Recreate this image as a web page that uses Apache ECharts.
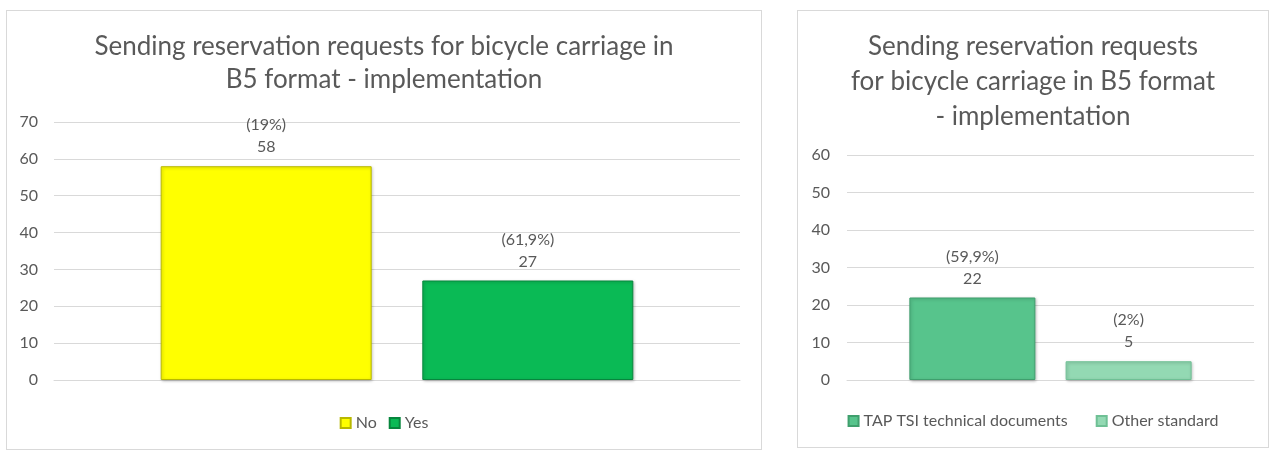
<!DOCTYPE html>
<html>
<head>
<meta charset="utf-8">
<script src="https://cdn.jsdelivr.net/npm/echarts@6/dist/echarts.min.js"></script>
<style>
  html, body { margin: 0; padding: 0; background: #fff; }
  .panel {
    position: absolute;
    box-sizing: border-box;
    border: 1px solid #d9d9d9;
    background: #fff;
  }
  #panel1 { left: 6px; top: 10px; width: 756px; height: 440px; }
  #panel2 { left: 797px; top: 10px; width: 472px; height: 438px; }
  .chart { width: 100%; height: 100%; }
</style>
</head>
<body>
<div class="panel" id="panel1"><div class="chart" id="chart1"></div></div>
<div class="panel" id="panel2"><div class="chart" id="chart2"></div></div>
<script>
// data
const titleLeft = "Sending reservation requests for bicycle carriage in\nB5 format - implementation";
const titleRight = "Sending reservation requests\nfor bicycle carriage in B5 format\n- implementation";

const leftNames = ["No", "Yes"];
const leftValues = [58, 27];
const leftShares = ["(19%)", "(61,9%)"];
const leftColors = ["#ffff00", "#0aba55"];
const leftBorders = ["#b8b800", "#07863d"];
const leftMax = 70;

const rightNames = ["TAP TSI technical documents", "Other standard"];
const rightValues = [22, 5];
const rightShares = ["(59,9%)", "(2%)"];
const rightColors = ["#57c48c", "#93d9b3"];
const rightBorders = ["#3f9f6d", "#6fc095"];
const rightMax = 60;

const font = "Lato";
const textColor = "#595959";

function buildSeries(names, values, shares, colors, borders, barWidth) {
  return names.map((name, i) => ({
    name: name,
    type: "bar",
    barWidth: barWidth,
    barGap: "24%",
    data: [values[i]],
    itemStyle: {
      color: colors[i],
      borderColor: borders[i],
      borderWidth: 1,
      shadowColor: "rgba(0,0,0,0.25)",
      shadowBlur: 3,
      shadowOffsetX: 1,
      shadowOffsetY: 1,
    },
    label: {
      show: true,
      position: "top",
      distance: 8,
      formatter: shares[i] + "\n" + values[i],
      color: textColor,
      fontSize: 16,
      lineHeight: 22,
      fontFamily: font,
    },
  }));
}

function buildOption(cfg) {
  return {
    animation: false,
    title: {
      text: cfg.title,
      left: "center",
      top: cfg.titleTop,
      padding: 0,
      textStyle: {
        color: textColor,
        fontSize: 26,
        fontWeight: "normal",
        lineHeight: cfg.titleLine,
        fontFamily: font,
      },
    },
    legend: {
      data: cfg.names,
      left: "center",
      top: cfg.legendTop,
      icon: "rect",
      itemWidth: 10,
      itemHeight: 10,
      itemGap: cfg.legendGap,
      textStyle: { color: textColor, fontSize: 16, fontFamily: font },
    },
    grid: cfg.grid,
    xAxis: {
      type: "category",
      data: [""],
      axisLine: { lineStyle: { color: "#d9d9d9" } },
      axisTick: { show: false },
      axisLabel: { show: false },
    },
    yAxis: {
      type: "value",
      min: 0,
      max: cfg.max,
      interval: 10,
      axisLine: { show: false },
      axisTick: { show: false },
      axisLabel: { color: textColor, fontSize: 16, margin: cfg.labelMargin, fontFamily: font },
      splitLine: { lineStyle: { color: "#d9d9d9" } },
    },
    series: buildSeries(cfg.names, cfg.values, cfg.shares, cfg.colors, cfg.borders, cfg.barWidth),
  };
}

const chart1 = echarts.init(document.getElementById("chart1"));
chart1.setOption(buildOption({
  title: titleLeft,
  titleTop: 19,
  titleLine: 33,
  names: leftNames,
  values: leftValues,
  shares: leftShares,
  colors: leftColors,
  borders: leftBorders,
  max: leftMax,
  barWidth: 211,
  legendTop: 399,
  legendGap: 12,
  labelMargin: 16,
  grid: { left: 47, right: 21, top: 111, bottom: 69 },
}));

const chart2 = echarts.init(document.getElementById("chart2"));
chart2.setOption(buildOption({
  title: titleRight,
  titleTop: 18,
  titleLine: 35,
  names: rightNames,
  values: rightValues,
  shares: rightShares,
  colors: rightColors,
  borders: rightBorders,
  max: rightMax,
  barWidth: 126,
  legendTop: 397,
  legendGap: 28,
  labelMargin: 17,
  grid: { left: 49, right: 14, top: 144, bottom: 67 },
}));
</script>
</body>
</html>
